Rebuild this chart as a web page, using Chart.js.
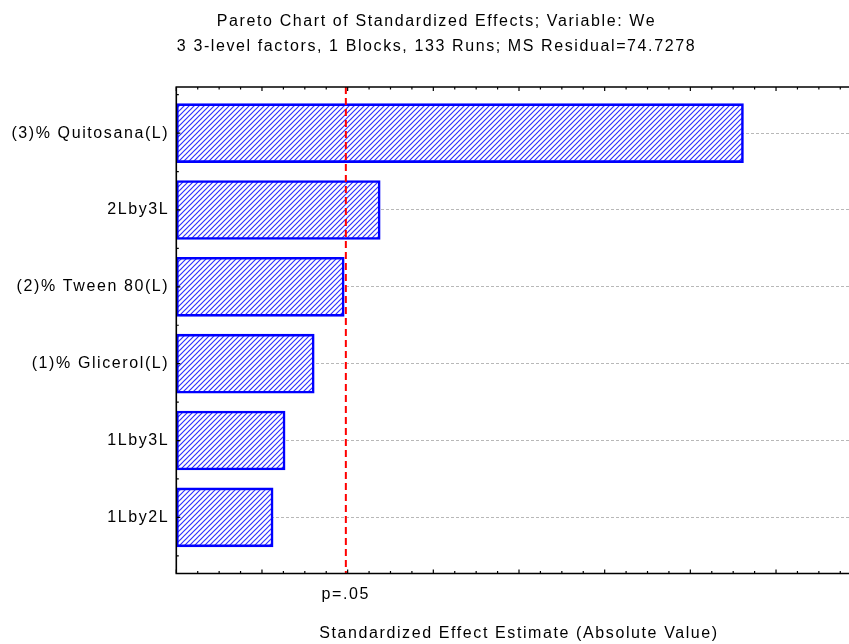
<!DOCTYPE html>
<html>
<head>
<meta charset="utf-8">
<script src="https://cdn.jsdelivr.net/npm/chart.js@4.4.1/dist/chart.umd.min.js"></script>
<style>
  html, body { margin: 0; padding: 0; background: #fff; overflow: hidden; }
  canvas { display: block; }
</style>
</head>
<body>
<canvas id="pareto" width="873" height="644"></canvas>
<script>
// Effects, sorted by absolute standardized estimate
const effects = ['(3)% Quitosana(L)', '2Lby3L', '(2)% Tween 80(L)', '(1)% Glicerol(L)', '1Lby3L', '1Lby2L'];
const estimates = [6.62, 2.38, 1.96, 1.61, 1.27, 1.13];
const rowPositions = [1, 2, 3, 4, 5, 6];

// Critical t value for p = .05
const pCritical = 1.979;
const pLabel = 'p=.05';

const titleLines = [
  'Pareto Chart of Standardized Effects; Variable: We',
  '3 3-level factors, 1 Blocks, 133 Runs; MS Residual=74.7278'
];
const xTitle = 'Standardized Effect Estimate (Absolute Value)';

const FONT = { family: '"Liberation Sans", Arial, sans-serif', size: 16, weight: 'normal', lineHeight: 1.2 };
const SPACING = '1.6px';

const canvas = document.getElementById('pareto');
const ctx = canvas.getContext('2d');

// White background with blue "/" hatching for the bars
function makeHatch() {
  const n = 5;
  const tile = document.createElement('canvas');
  tile.width = n; tile.height = n;
  const g = tile.getContext('2d');
  g.fillStyle = '#ffffff';
  g.fillRect(0, 0, n, n);
  g.strokeStyle = '#3030ff';
  g.lineWidth = 1.2;
  g.beginPath();
  g.moveTo(-1, n + 1); g.lineTo(n + 1, -1);
  g.moveTo(-1, 1); g.lineTo(1, -1);
  g.moveTo(n - 1, n + 1); g.lineTo(n + 1, n - 1);
  g.stroke();
  return ctx.createPattern(tile, 'repeat');
}

// Slightly wider letter spacing for all chart text
const letterSpacing = {
  id: 'letterSpacing',
  beforeUpdate(chart) { chart.ctx.letterSpacing = SPACING; },
  beforeDraw(chart) { chart.ctx.letterSpacing = SPACING; }
};

// Dashed significance line at the critical value
const criticalLine = {
  id: 'criticalLine',
  afterDatasetsDraw(chart) {
    const { ctx, chartArea: a, scales: { x } } = chart;
    const px = x.getPixelForValue(pCritical);
    ctx.save();
    ctx.strokeStyle = '#ff0000';
    ctx.lineWidth = 2;
    ctx.setLineDash([7, 4]);
    ctx.beginPath();
    ctx.moveTo(px, a.top);
    ctx.lineTo(px, a.bottom);
    ctx.stroke();
    ctx.restore();
  }
};

// Plot frame with inward tick marks on the left, top and bottom
const frame = {
  id: 'frame',
  afterDraw(chart) {
    const { ctx, chartArea: a, scales: { x, y } } = chart;
    ctx.save();
    ctx.strokeStyle = '#000';
    ctx.lineWidth = 1.6;
    ctx.setLineDash([]);
    ctx.beginPath();
    ctx.moveTo(a.right, a.top); ctx.lineTo(a.left, a.top);
    ctx.lineTo(a.left, a.bottom); ctx.lineTo(a.right, a.bottom);
    ctx.stroke();

    ctx.lineWidth = 1.2;
    ctx.beginPath();
    for (let v = x.min; v <= x.max + 1e-9; v += 0.25) {
      const px = x.getPixelForValue(v);
      const len = Math.abs(v - Math.round(v)) < 1e-9 ? 4 : 2.5;
      ctx.moveTo(px, a.bottom); ctx.lineTo(px, a.bottom - len);
      ctx.moveTo(px, a.top); ctx.lineTo(px, a.top + len);
    }
    for (let v = 0.5; v <= y.max; v += 0.5) {
      const py = y.getPixelForValue(v);
      const len = Math.abs(v - Math.round(v)) < 1e-9 ? 4 : 2.5;
      ctx.moveTo(a.left, py); ctx.lineTo(a.left + len, py);
    }
    ctx.stroke();
    ctx.restore();
  }
};

new Chart(ctx, {
  type: 'bar',
  data: {
    datasets: [{
      data: effects.map((name, i) => ({ x: estimates[i], y: rowPositions[i] })),
      backgroundColor: makeHatch(),
      borderColor: '#0000ff',
      borderWidth: 2.6,
      borderSkipped: false,
      barThickness: 59
    }]
  },
  options: {
    indexAxis: 'y',
    responsive: false,
    animation: false,
    events: [],
    layout: { padding: { left: 11.3, right: 11.3, top: 0, bottom: 0 } },
    plugins: {
      legend: { display: false },
      tooltip: { enabled: false },
      title: {
        display: true,
        text: titleLines,
        color: '#000',
        font: { ...FONT, lineHeight: 25 / 16 },
        padding: { top: 9.5, bottom: 27.5 }
      }
    },
    scales: {
      x: {
        type: 'linear',
        position: 'bottom',
        min: 0,
        max: 8,
        offset: false,
        grid: { display: false, drawTicks: false, offset: false },
        border: { display: false },
        afterBuildTicks(scale) { scale.ticks = [{ value: pCritical }]; },
        ticks: {
          callback: () => pLabel,
          color: '#000',
          font: FONT,
          padding: 11,
          maxRotation: 0,
          autoSkip: false
        },
        title: {
          display: true,
          text: xTitle,
          color: '#000',
          font: FONT,
          padding: { top: 0, bottom: 1 }
        },
        afterFit(scale) { scale.height = 70.5; }
      },
      y: {
        type: 'linear',
        reverse: true,
        min: 0.4,
        max: 6.73,
        offset: false,
        grid: { color: '#b8b8b8', lineWidth: 1, drawTicks: false, offset: false },
        border: { display: false, dash: [3, 2] },
        afterBuildTicks(scale) { scale.ticks = rowPositions.map(v => ({ value: v })); },
        ticks: {
          callback: (v) => effects[Math.round(v) - 1],
          color: '#000',
          font: FONT,
          padding: 7,
          autoSkip: false
        },
        afterFit(scale) { scale.width = 165; }
      }
    }
  },
  plugins: [letterSpacing, criticalLine, frame]
});
</script>
</body>
</html>
